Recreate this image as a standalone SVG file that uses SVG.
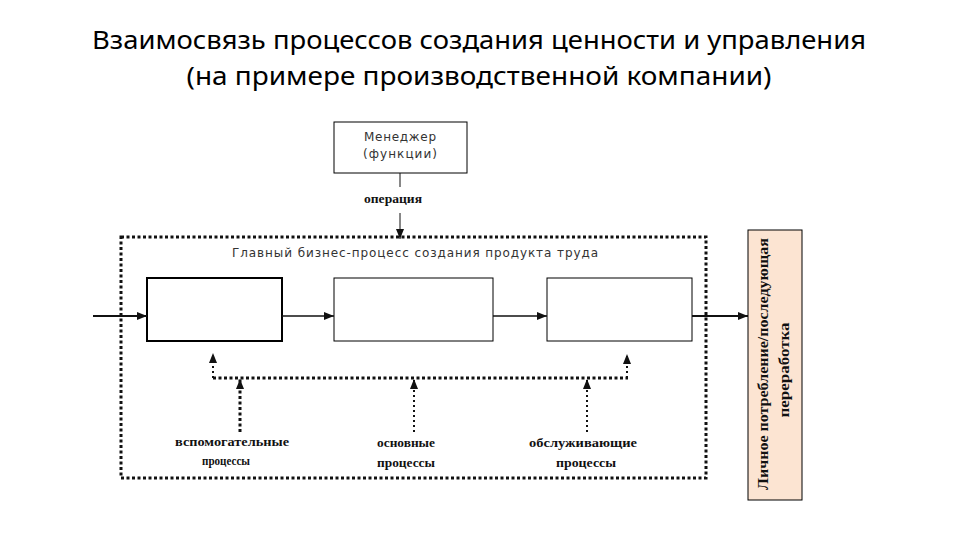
<svg xmlns="http://www.w3.org/2000/svg" width="960" height="540" viewBox="0 0 960 540">
  <style>
    .title { font-family: "Noto Sans", "Open Sans", sans-serif; font-size: 26px; fill: #000; text-anchor: middle; }
    .sans { font-family: "DejaVu Sans", "Liberation Sans", sans-serif; font-size: 12px; fill: #333; }
    .serif { font-family: "Liberation Serif", "Times New Roman", serif; font-weight: bold; font-size: 12px; fill: #111; }
    .vert { font-family: "Liberation Serif", "Times New Roman", serif; font-weight: bold; font-size: 14px; fill: #111; text-anchor: middle; }
    .box { fill: #fff; stroke: #000; }
    .solid { stroke: #111; fill: none; }
    .dotThick { stroke: #111; stroke-width: 3; stroke-dasharray: 3 2.5; fill: none; }
    .dotThin { stroke: #111; stroke-width: 2; stroke-dasharray: 2 3; fill: none; }
  </style>
  <defs>
    <marker id="arr" markerUnits="userSpaceOnUse" markerWidth="10" markerHeight="8" refX="10" refY="4" orient="auto">
      <path d="M0,0 L10,4 L0,8 z" fill="#111"/>
    </marker>
  </defs>
  <rect width="960" height="540" fill="#fff"/>

  <g id="title">
    <text class="title" x="479" y="49" textLength="774" lengthAdjust="spacingAndGlyphs">Взаимосвязь процессов создания ценности и управления</text>
    <text class="title" x="479" y="85" textLength="585" lengthAdjust="spacingAndGlyphs">(на примере производственной компании)</text>
  </g>

  <g id="manager">
    <rect class="box" x="334" y="122" width="133" height="51" stroke-width="1"/>
    <text class="sans" x="400" y="141" text-anchor="middle" textLength="72" lengthAdjust="spacing">Менеджер</text>
    <text class="sans" x="400" y="158" text-anchor="middle" textLength="74" lengthAdjust="spacing">(функции)</text>
  </g>

  <g id="frame">
    <rect x="121" y="237" width="585" height="241" class="dotThick"/>
    <text class="sans" x="415" y="257" text-anchor="middle" font-size="13" textLength="366" lengthAdjust="spacing">Главный бизнес-процесс создания продукта труда</text>
  </g>

  <g id="proc1"><rect class="box" x="147" y="278" width="135" height="63" stroke-width="2"/></g>
  <g id="proc2"><rect class="box" x="334" y="278" width="159" height="63" stroke-width="1"/></g>
  <g id="proc3"><rect class="box" x="547" y="278" width="145" height="63" stroke-width="1"/></g>

  <g id="consumer">
    <rect x="748" y="230" width="54" height="270" fill="#fce4d2" stroke="#000" stroke-width="1"/>
    <text class="vert" transform="translate(768,364) rotate(-90)" textLength="252" lengthAdjust="spacingAndGlyphs">Личное потребление/последующая</text>
    <text class="vert" transform="translate(789,370) rotate(-90)" textLength="95" lengthAdjust="spacingAndGlyphs">переработка</text>
  </g>

  <g id="labels">
    <text class="serif" x="393" y="203" text-anchor="middle" textLength="58" lengthAdjust="spacingAndGlyphs">операция</text>
    <text class="serif" x="232" y="446" text-anchor="middle" textLength="114" lengthAdjust="spacingAndGlyphs">вспомогательные</text>
    <text class="serif" x="226" y="465" text-anchor="middle" textLength="48" lengthAdjust="spacingAndGlyphs">процессы</text>
    <text class="serif" x="406" y="447" text-anchor="middle" textLength="58" lengthAdjust="spacingAndGlyphs">основные</text>
    <text class="serif" x="406" y="467" text-anchor="middle" textLength="58" lengthAdjust="spacingAndGlyphs">процессы</text>
    <text class="serif" x="583" y="447" text-anchor="middle" textLength="108" lengthAdjust="spacingAndGlyphs">обслуживающие</text>
    <text class="serif" x="586" y="467" text-anchor="middle" textLength="60" lengthAdjust="spacingAndGlyphs">процессы</text>
  </g>

  <g id="connectors">
    <line class="solid" x1="400" y1="173" x2="400" y2="187" stroke-width="1"/>
    <line class="solid" x1="400" y1="213" x2="400" y2="239" stroke-width="1" marker-end="url(#arr)"/>
    <line class="solid" x1="93" y1="316" x2="147" y2="316" stroke-width="2" marker-end="url(#arr)"/>
    <line class="solid" x1="282" y1="316" x2="334" y2="316" stroke-width="1.5" marker-end="url(#arr)"/>
    <line class="solid" x1="493" y1="316" x2="547" y2="316" stroke-width="1.5" marker-end="url(#arr)"/>
    <line class="solid" x1="692" y1="316" x2="748" y2="316" stroke-width="2" marker-end="url(#arr)"/>
    <line class="dotThick" x1="213" y1="378" x2="628" y2="378"/>
    <line class="dotThin" x1="213" y1="378" x2="213" y2="353" marker-end="url(#arr)"/>
    <line class="dotThin" x1="627" y1="378" x2="627" y2="354" marker-end="url(#arr)"/>
    <line class="dotThick" x1="240" y1="432" x2="240" y2="379" marker-end="url(#arr)"/>
    <line class="dotThin" x1="414" y1="432" x2="414" y2="379" marker-end="url(#arr)"/>
    <line class="dotThin" x1="587" y1="432" x2="587" y2="379" marker-end="url(#arr)"/>
  </g>
</svg>
